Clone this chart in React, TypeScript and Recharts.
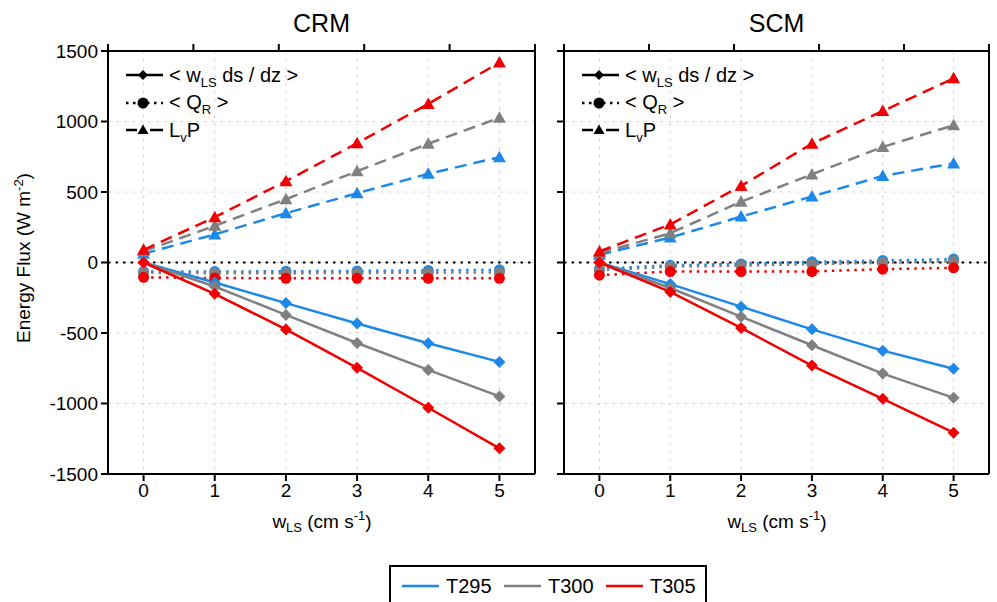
import React from 'react';
import { LineChart, Line, XAxis, YAxis, CartesianGrid, ReferenceLine } from 'recharts';

const FONT = '"Liberation Sans", Arial, Helvetica, sans-serif';

const wLS = [0, 1, 2, 3, 4, 5];
const yTicks = [-1500, -1000, -500, 0, 500, 1000, 1500];
const temps = ['T295', 'T300', 'T305'];
const colors = ['#1e88e8', '#808080', '#f00000'];

// CRM panel: < wLS ds/dz >, < QR >, LvP
const crmAdvT295 = [0, -142, -288, -433, -573, -705];
const crmAdvT300 = [0, -170, -372, -571, -762, -950];
const crmAdvT305 = [0, -222, -475, -747, -1030, -1318];
const crmQrT295 = [-64, -64, -62, -60, -56, -52];
const crmQrT300 = [-73, -76, -76, -74, -72, -71];
const crmQrT305 = [-105, -110, -112, -112, -112, -112];
const crmLpT295 = [62, 199, 350, 491, 629, 747];
const crmLpT300 = [80, 260, 449, 647, 842, 1026];
const crmLpT305 = [90, 321, 577, 846, 1125, 1418];

// SCM panel
const scmAdvT295 = [0, -153, -313, -474, -625, -754];
const scmAdvT300 = [0, -181, -384, -587, -788, -960];
const scmAdvT305 = [0, -209, -464, -731, -967, -1207];
const scmQrT295 = [-45, -20, -10, 5, 14, 24];
const scmQrT300 = [-55, -30, -22, -12, -2, 8];
const scmQrT305 = [-90, -64, -64, -64, -47, -38];
const scmLpT295 = [55, 177, 326, 468, 614, 703];
const scmLpT300 = [66, 208, 431, 625, 820, 973];
const scmLpT305 = [78, 270, 543, 843, 1074, 1306];

type Row = Record<string, number>;

function makeRows(adv: number[][], qr: number[][], lp: number[][]) {
  return wLS.map((x, i) => {
    const row: Row = { x };
    temps.forEach((t, k) => {
      row[`adv${t}`] = adv[k][i];
      row[`qr${t}`] = qr[k][i];
      row[`lp${t}`] = lp[k][i];
    });
    return row;
  });
}

const crmRows = makeRows(
  [crmAdvT295, crmAdvT300, crmAdvT305],
  [crmQrT295, crmQrT300, crmQrT305],
  [crmLpT295, crmLpT300, crmLpT305]
);
const scmRows = makeRows(
  [scmAdvT295, scmAdvT300, scmAdvT305],
  [scmQrT295, scmQrT300, scmQrT305],
  [scmLpT295, scmLpT300, scmLpT305]
);

const diamondDot = (color: string) => (p: any) => {
  const k = `dm${p.index}`;
  if (p.cx == null || p.cy == null) return <g key={k} />;
  const { cx, cy } = p;
  const r = 6;
  return <path key={k} d={`M${cx},${cy - r}L${cx + r},${cy}L${cx},${cy + r}L${cx - r},${cy}Z`} fill={color} />;
};

const circleDot = (color: string) => (p: any) => {
  const k = `ci${p.index}`;
  if (p.cx == null || p.cy == null) return <g key={k} />;
  return <circle key={k} cx={p.cx} cy={p.cy} r={5.5} fill={color} />;
};

const triangleDot = (color: string) => (p: any) => {
  const k = `tr${p.index}`;
  if (p.cx == null || p.cy == null) return <g key={k} />;
  const { cx, cy } = p;
  return <path key={k} d={`M${cx},${cy - 6.5}L${cx + 6.5},${cy + 5}L${cx - 6.5},${cy + 5}Z`} fill={color} />;
};

// tick marks only, no label
const noLabel = () => <g />;

const axisStroke = { stroke: '#000', strokeWidth: 2 };
const tickStyle = { fill: '#000', fontSize: 19, fontFamily: FONT };

function Panel({ rows, left, width, margin, showYLabels }: any) {
  return (
    <div style={{ position: 'absolute', left, top: 0 }}>
      <LineChart width={width} height={514} data={rows} margin={margin}>
        <CartesianGrid stroke="#d4d4d4" strokeDasharray="3 5" />
        <XAxis
          dataKey="x"
          type="number"
          domain={[-0.5, 5.5]}
          ticks={wLS}
          height={40}
          tickSize={7}
          tickMargin={3}
          axisLine={axisStroke}
          tickLine={axisStroke}
          tick={tickStyle}
        />
        <XAxis
          xAxisId="top"
          orientation="top"
          type="number"
          domain={[-0.5, 5.5]}
          ticks={wLS}
          height={10}
          tickSize={7}
          axisLine={axisStroke}
          tickLine={axisStroke}
          tick={noLabel}
        />
        <YAxis
          type="number"
          domain={[-1500, 1500]}
          ticks={yTicks}
          width={showYLabels ? 100 : 10}
          tickSize={7}
          tickMargin={3}
          axisLine={axisStroke}
          tickLine={axisStroke}
          tick={showYLabels ? tickStyle : noLabel}
        />
        <YAxis
          yAxisId="right"
          orientation="right"
          type="number"
          domain={[-1500, 1500]}
          ticks={yTicks}
          width={margin.right > 2 ? 10 : 8}
          tickSize={7}
          axisLine={axisStroke}
          tickLine={axisStroke}
          tick={noLabel}
        />
        <ReferenceLine y={0} stroke="#000" strokeWidth={2} strokeDasharray="2.5 5" />
        {temps.map((t, k) => (
          <Line
            key={`lp${t}`}
            dataKey={`lp${t}`}
            stroke={colors[k]}
            strokeWidth={2.5}
            strokeDasharray="12 7"
            dot={triangleDot(colors[k])}
            activeDot={false}
            isAnimationActive={false}
          />
        ))}
        {temps.map((t, k) => (
          <Line
            key={`qr${t}`}
            dataKey={`qr${t}`}
            stroke={colors[k]}
            strokeWidth={2.5}
            strokeDasharray="2.5 5"
            dot={circleDot(colors[k])}
            activeDot={false}
            isAnimationActive={false}
          />
        ))}
        {temps.map((t, k) => (
          <Line
            key={`adv${t}`}
            dataKey={`adv${t}`}
            stroke={colors[k]}
            strokeWidth={2.5}
            dot={diamondDot(colors[k])}
            activeDot={false}
            isAnimationActive={false}
          />
        ))}
      </LineChart>
    </div>
  );
}

function InnerLegend({ x0 }: { x0: number }) {
  const tx = x0 + 43;
  const mx = x0 + 17;
  return (
    <g fontSize={20} fill="#000">
      <line x1={x0} x2={x0 + 37} y1={75} y2={75} stroke="#000" strokeWidth={2.5} />
      <path d={`M${mx},${70}L${mx + 5},${75}L${mx},${80}L${mx - 5},${75}Z`} fill="#000" />
      <text x={tx} y={82}>
        {'< w'}
        <tspan dy={5} fontSize={13}>LS</tspan>
        <tspan dy={-5}>{' ds / dz >'}</tspan>
      </text>
      <line x1={x0} x2={x0 + 37} y1={103} y2={103} stroke="#000" strokeWidth={2.5} strokeDasharray="2.5 4.5" />
      <circle cx={mx} cy={103} r={5.5} fill="#000" />
      <text x={tx} y={109}>
        {'< Q'}
        <tspan dy={5} fontSize={13}>R</tspan>
        <tspan dy={-5}>{' >'}</tspan>
      </text>
      <line x1={x0} x2={x0 + 11} y1={130} y2={130} stroke="#000" strokeWidth={2.5} />
      <line x1={x0 + 24} x2={x0 + 37} y1={130} y2={130} stroke="#000" strokeWidth={2.5} />
      <path d={`M${mx},${124.5}L${mx + 5.5},${134}L${mx - 5.5},${134}Z`} fill="#000" />
      <text x={tx} y={137}>
        L<tspan dy={5} fontSize={13}>v</tspan>
        <tspan dy={-5}>P</tspan>
      </text>
    </g>
  );
}

function XLabel({ cx }: { cx: number }) {
  return (
    <text x={cx} y={528} textAnchor="middle" fontSize={19}>
      w<tspan dy={4} fontSize={13}>LS</tspan>
      <tspan dy={-4}>{' (cm s'}</tspan>
      <tspan dy={-8} fontSize={13}>-1</tspan>
      <tspan dy={8}>)</tspan>
    </text>
  );
}

export default function App() {
  return (
    <div
      style={{
        position: 'absolute',
        left: 0,
        top: 0,
        width: 997,
        height: 602,
        overflow: 'hidden',
        background: '#fff',
        fontFamily: FONT,
      }}
    >
      <Panel rows={crmRows} left={0} width={550} margin={{ top: 41, right: 5, bottom: 0, left: 8 }} showYLabels />
      <Panel rows={scmRows} left={554} width={443} margin={{ top: 41, right: 0, bottom: 0, left: 0 }} showYLabels={false} />
      <svg
        width={997}
        height={602}
        style={{ position: 'absolute', left: 0, top: 0, pointerEvents: 'none', fontFamily: FONT }}
      >
        <text x={321.5} y={32} textAnchor="middle" fontSize={25}>CRM</text>
        <text x={776.5} y={32} textAnchor="middle" fontSize={25}>SCM</text>
        <text transform="translate(30,258) rotate(-90)" textAnchor="middle" fontSize={19}>
          Energy Flux (W m<tspan dy={-7} fontSize={13}>-2</tspan>
          <tspan dy={7}>)</tspan>
        </text>
        <XLabel cx={322} />
        <XLabel cx={777} />
        <InnerLegend x0={126} />
        <InnerLegend x0={582} />
        <rect x={390} y={566} width={316} height={50} fill="#fff" stroke="#000" strokeWidth={2} />
        {temps.map((t, k) => {
          const lx = 402 + k * 102;
          return (
            <g key={t}>
              <line x1={lx} x2={lx + 37} y1={586} y2={586} stroke={colors[k]} strokeWidth={2.5} />
              <text x={lx + 44} y={593} fontSize={20}>{t}</text>
            </g>
          );
        })}
      </svg>
    </div>
  );
}
